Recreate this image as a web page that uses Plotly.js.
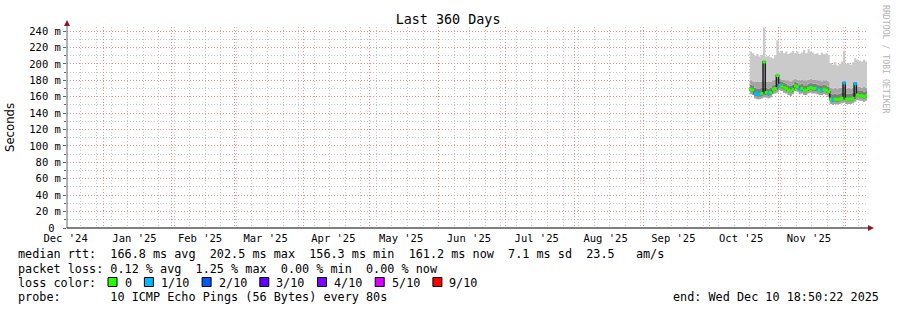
<!DOCTYPE html>
<html><head><meta charset="utf-8">
<script src="https://cdn.plot.ly/plotly-3.0.1.min.js"></script>
<style>html,body{margin:0;padding:0;background:#fff;}#chart{width:897px;height:310px;}</style>
</head><body><div id="chart"></div>
<script>
// ---------- data ----------
const firstDay = [2025, 9, 19];            // 2025-10-19 (first day with samples)
const graphStart = '2024-12-15 18:50:22';
const graphEnd = '2025-12-10 18:50:22';

const medianRtt = [169,168,164,163,163,164,202.5,165,164,165,169,170,186,174,173,171,170,168,167,169,173,172,169,170,168,168,170,171,170,170,169,168,168,169,168,166,157,156.3,157,156.5,157,158,177,157,157,157,158,176,162,161,161,160,161.2];
const lossTenths = [0,0,1,1,1,0,0,0,1,0,0,0,0,1,0,0,0,0,0,0,0,0,1,0,0,0,0,0,0,0,1,0,1,0,0,0,0,1,0,0,0,0,1,0,0,0,0,1,0,0,0,0,0];
const smokeLow  = [163,162,158,157,157,158,159,159,158,159,163,164,165,168,167,165,164,162,161,163,167,166,163,164,162,162,164,165,164,164,163,162,162,163,162,160,151,150,151,150.5,151,152,153,151,151,151,152,154,156,155,155,154,155];
const smokeLow1 = [166,165,161,160,160,161,162,162,161,162,166,167,168,171,170,168,167,165,164,166,170,169,166,167,165,165,167,168,167,167,166,165,165,166,165,163,154,153,154,153.5,154,155,156,154,154,154,155,157,159,158,158,157,158];
const smokeHigh1 = [175,174,171,170,170,171,171,171,170,171,174,175,176,179,178,177,176,174,173,175,178,177,175,176,174,174,176,177,176,176,175,174,174,175,174,172,164,163,164,163,164,165,165,164,164,164,165,165,167,167,167,166,167];
const smokeHigh2 = [180,179,178,179,178,179,179,178,179,178,180,181,182,182,181,181,180,180,179,180,182,181,180,181,180,180,181,182,181,181,180,180,179,180,180,179,171,170,171,170,171,171,172,170,171,170,171,172,172,172,171,172,171];
const smokeMax  = [215,213,210,212,209,211,244,209,210,208,207,211,229,214,216,213,215,212,214,216,213,215,212,214,217,213,218,215,214,212,213,211,214,212,213,211,201,199,202,198,200,203,216,200,201,199,202,207,205,204,203,205,203];

const yTickVals = [0,20,40,60,80,100,120,140,160,180,200,220,240];
const yTickText = ['0\u00a0','20 m','40 m','60 m','80 m','100 m','120 m','140 m','160 m','180 m','200 m','220 m','240 m'];

const lossLevels = [0,1,2,3,4,5,9];
const lossLabels = ['0','1/10','2/10','3/10','4/10','5/10','9/10'];
const lossColors = ['#26ff00','#00b8ff','#0059ff','#5e00ff','#7e00ff','#dd00ff','#ff0000'];

const chartTitle = 'Last 360 Days';
const yTitle = 'Seconds';
const statsRtt  = 'median rtt:  166.8 ms avg  202.5 ms max  156.3 ms min  161.2 ms now  7.1 ms sd  23.5   am/s';
const statsLoss = 'packet loss: 0.12 % avg  1.25 % max  0.00 % min  0.00 % now';
const lossHead  = 'loss color:';
const probeLine = 'probe:       10 ICMP Echo Pings (56 Bytes) every 80s';
const endLine   = 'end: Wed Dec 10 18:50:22 2025';
const watermark = 'RRDTOOL / TOBI OETIKER';

// ---------- build ----------
function pad(n){return (n<10?'0':'')+n;}
function dayStr(i){const d=new Date(Date.UTC(firstDay[0],firstDay[1],firstDay[2]+i));return d.getUTCFullYear()+'-'+pad(d.getUTCMonth()+1)+'-'+pad(d.getUTCDate());}
const days = medianRtt.map((_,i)=>dayStr(i));
const xs = days.concat([graphEnd]);
const ext = a => a.concat([a[a.length-1]]);
const noon = days.map(d=>d+' 12:00');
function lossColor(k){let c=lossColors[0];lossLevels.forEach((l,j)=>{if(k>=l)c=lossColors[j];});return c;}

const mono = 'DejaVu Sans Mono';
const band = (y, fill, color) => ({x:xs, y:ext(y), type:'scatter', mode:'lines', line:{shape:'hv', width:0, color:color||'rgba(0,0,0,0)'}, fill:fill, fillcolor:color, hoverinfo:'skip', showlegend:false});

const traces = [
  band(smokeLow, 'none'),
  band(smokeLow1, 'tonexty', '#a4a4a4'),
  band(smokeHigh1, 'tonexty', '#7e7e7e'),
  band(smokeHigh2, 'tonexty', '#a4a4a4'),
  band(smokeMax, 'tonexty', '#cacaca'),
  {x:xs, y:ext(medianRtt), type:'scatter', mode:'lines', line:{shape:'hv', width:1.5, color:'#1c1c1c'}, showlegend:false},
  {x:noon, y:medianRtt, type:'scatter', mode:'markers', marker:{symbol:'square', size:3.2, color:lossTenths.map(lossColor), line:{width:0}}, showlegend:false}
];

// pixel -> paper helpers (plot area: x 67..867, y 27..228)
const L=67, R=30, T=27, B=82, W=897, H=310, PW=W-L-R, PH=H-T-B;
const px = x => (x-L)/PW;
const py = y => (H-B-y)/PH;
const nb = s => s.replace(/ /g,'\u00a0');

const annotations = [];
const shapes = [];
function txt(s, x, y, opts){annotations.push(Object.assign({text:nb(s), xref:'paper', yref:'paper', x:px(x), y:py(y), xanchor:'left', yanchor:'middle', showarrow:false, font:{family:mono, size:11.8, color:'#000'}}, opts||{}));}
txt(statsRtt, 15.5, 254);
txt(statsLoss, 15.5, 268.5);
txt(lossHead, 15.5, 283);
txt(probeLine, 15.5, 297);
txt(endLine, 881, 297, {xanchor:'right'});
let bx = 108;
lossLabels.forEach((lab,j)=>{
  shapes.push({type:'rect', xref:'paper', yref:'paper', x0:px(bx), x1:px(bx+9), y0:py(286.5), y1:py(277.5), fillcolor:lossColors[j], line:{color:'#000', width:1}});
  txt(lab, bx+14.5, 283);
  bx = bx + 14.5 + lab.length*7.1 + 14.8;
});
annotations.push({text:watermark, xref:'paper', yref:'paper', x:px(886), y:py(59), xanchor:'center', yanchor:'middle', textangle:90, showarrow:false, font:{family:mono, size:8.2, color:'#b4b4b4'}});

// axis arrows
shapes.push({type:'line', xref:'paper', yref:'paper', x0:px(67), x1:px(67), y0:py(228), y1:py(23), line:{color:'#666', width:1}});
shapes.push({type:'path', xref:'paper', yref:'paper', path:`M ${px(64)} ${py(26)} L ${px(70)} ${py(26)} L ${px(67)} ${py(20)} Z`, fillcolor:'#8b1a1a', line:{width:0}});
shapes.push({type:'line', xref:'paper', yref:'paper', x0:px(67), x1:px(869), y0:py(228), y1:py(228), line:{color:'#000', width:1}});
shapes.push({type:'path', xref:'paper', yref:'paper', path:`M ${px(868)} ${py(225)} L ${px(868)} ${py(231)} L ${px(874)} ${py(228)} Z`, fillcolor:'#8b1a1a', line:{width:0}});

const majorGrid = '#f38c8c';
const minorGrid = '#c4c4c4';
const layout = {
  width:W, height:H, margin:{l:L, r:R, t:T, b:B, pad:0},
  paper_bgcolor:'#fff', plot_bgcolor:'#fff', showlegend:false,
  title:{text:chartTitle, font:{family:mono, size:13.4, color:'#000'}, xref:'container', yref:'container', x:0.4995, y:1-19/310, xanchor:'center', yanchor:'middle'},
  xaxis:{type:'date', range:[graphStart, graphEnd], dtick:'M1', tick0:'2025-01-01', tickformat:"%b '%y", ticklabelmode:'period', ticklabelshift:-3, ticklabelstandoff:2,
    showgrid:true, gridcolor:majorGrid, griddash:'1px,2px', gridwidth:1,
    minor:{dtick:7*86400000, tick0:'2024-12-15', showgrid:true, gridcolor:minorGrid, griddash:'1px,2px', ticks:''},
    ticks:'', showline:false, zeroline:false, tickfont:{family:mono, size:10.5, color:'#000'}, fixedrange:true},
  yaxis:{range:[0,245], tickmode:'array', tickvals:yTickVals, ticktext:yTickText,
    showgrid:true, gridcolor:majorGrid, griddash:'1px,2px', gridwidth:1,
    minor:{dtick:10, tick0:10, showgrid:true, gridcolor:minorGrid, griddash:'1px,2px', ticks:'outside', ticklen:2, tickcolor:'#666'},
    ticks:'outside', ticklen:3, tickcolor:'#666', showline:false, zeroline:false,
    tickfont:{family:mono, size:10.5, color:'#000'},
    title:{text:yTitle, font:{family:'DejaVu Sans', size:11.7, color:'#000'}, standoff:12}, fixedrange:true},
  annotations:annotations, shapes:shapes
};
Plotly.newPlot('chart', traces, layout, {staticPlot:true, displayModeBar:false});
</script></body></html>
